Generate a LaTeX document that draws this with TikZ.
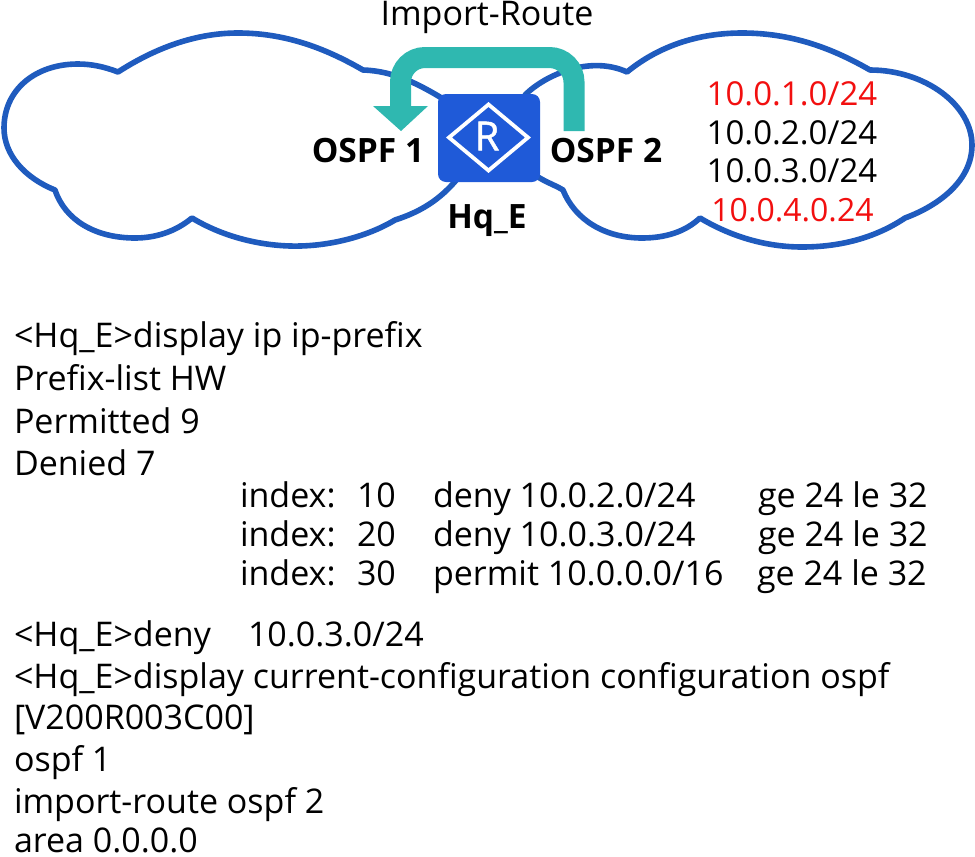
\documentclass[tikz,border=0pt]{standalone}
\usepackage{fontspec}
\setmainfont{Open Sans}
\newfontfamily\rfont[FakeBold=1.2]{Open Sans}
\definecolor{cloudblue}{HTML}{1F5BBE}
\definecolor{routerblue}{HTML}{1F5AD8}
\definecolor{teal2}{HTML}{2FB8B0}
\definecolor{netred}{HTML}{F20F0F}
\tikzset{
  x=1pt,y=-1pt,
  cloud line/.style={draw=cloudblue,line width=5.6pt,fill=white,line join=round},
  txt/.style={anchor=base west,inner sep=0pt,outer sep=0pt,font=\fontsize{34}{36}\selectfont,text=black},
  lbl/.style={anchor=base,inner sep=0pt,outer sep=0pt,font=\fontsize{33.5}{36}\selectfont\bfseries,text=black},
  net/.style={anchor=base,inner sep=0pt,outer sep=0pt,font=\fontsize{33}{36}\selectfont},
  flow/.style={draw=teal2,line width=21pt},
}
\begin{document}
\begin{tikzpicture}
\useasboundingbox (0,0) rectangle (975,857);
% left cloud
\draw[cloud line] (118,72)
  .. controls (160,45) and (200,33) .. (238,33)
  .. controls (285,33) and (325,48) .. (363,70)
  .. controls (395,71) and (420,85) .. (445,100)
  -- (458,178)
  .. controls (440,200) and (420,212) .. (395,220)
  .. controls (365,238) and (325,247) .. (290,246)
  .. controls (255,245) and (220,235) .. (192,218)
  .. controls (175,232) and (155,238) .. (135,238)
  .. controls (95,238) and (65,220) .. (55,190)
  .. controls (25,178) and (4,155) .. (4,128)
  .. controls (4,90) and (35,64) .. (78,64)
  .. controls (92,64) and (105,67) .. (118,72) -- cycle;
% right cloud
\draw[cloud line] (627,72)
  .. controls (660,45) and (700,33) .. (742,33)
  .. controls (790,33) and (830,47) .. (870,70)
  .. controls (925,70) and (972,105) .. (972,145)
  .. controls (972,180) and (940,205) .. (905,218)
  .. controls (875,238) and (840,247) .. (802,247)
  .. controls (765,247) and (730,236) .. (700,218)
  .. controls (685,232) and (665,238) .. (642,238)
  .. controls (605,238) and (575,220) .. (563,190)
  .. controls (555,185) and (545,182) .. (535,175)
  -- (525,95)
  .. controls (545,75) and (590,55) .. (627,72) -- cycle;
% router
\node[draw=none,fill=routerblue,rounded corners=8pt,minimum width=102pt,minimum height=88pt,inner sep=0pt] (router) at (489,138) {};
\draw[white,line width=3.8pt,line join=miter] (449,137.5) -- (488.5,104.5) -- (528,137.5) -- (488.5,170.5) -- cycle;
\node[inner sep=0pt,text=white,font=\rfont\fontsize{40}{40}\selectfont] (routerR) at (487,136) {R};
% import arrow
\coordinate (fromPt) at (574,131);
\coordinate (toPt) at (400.5,107);
\draw[flow] (fromPt) -- (574,82) arc[start angle=0,end angle=-90,radius=24.5] -- (425,57.5) arc[start angle=-90,end angle=-180,radius=24.5] -- (toPt);
\fill[teal2] (373,106) -- (428,106) -- (401,131) -- cycle;
% labels
\node[anchor=base,inner sep=0pt,font=\fontsize{34}{36}\selectfont] (importLbl) at (487,25) {Import-Route};
\node[lbl] (ospf1) at (368,162) {OSPF 1};
\node[lbl] (ospf2) at (606,162) {OSPF 2};
\node[lbl] (hq) at (487,228) {Hq\_E};
\node[net,text=netred] (n1) at (792,105) {10.0.1.0/24};
\node[net,text=black] (n2) at (792,144) {10.0.2.0/24};
\node[net,text=black] (n3) at (792,182) {10.0.3.0/24};
\node[net,text=netred,font=\fontsize{32}{36}\selectfont] (n4) at (792.5,221.5) {10.0.4.0.24};
% console text
\node[txt] (t1) at (14,347) {<Hq\_E>display ip ip-prefix};
\node[txt] (t2) at (14,390) {Prefix-list HW};
\node[txt] (t3) at (14,433) {Permitted 9};
\node[txt] (t4) at (14,475) {Denied 7};
\node[txt] (i1) at (240,507) {index:};
\node[txt] (i1a) at (357,507) {10};
\node[txt] (i1b) at (433,507) {deny 10.0.2.0/24};
\node[txt] (i1c) at (758,507) {ge 24 le 32};
\node[txt] (i2) at (240,546) {index:};
\node[txt] (i2a) at (357,546) {20};
\node[txt] (i2b) at (433,546) {deny 10.0.3.0/24};
\node[txt] (i2c) at (758,546) {ge 24 le 32};
\node[txt] (i3) at (240,585) {index:};
\node[txt] (i3a) at (357,585) {30};
\node[txt] (i3b) at (433,585) {permit 10.0.0.0/16};
\node[txt] (i3c) at (757,585) {ge 24 le 32};
\node[txt] (t5) at (14,646) {<Hq\_E>deny};
\node[txt] (t5b) at (248,646) {10.0.3.0/24};
\node[txt] (t6) at (14,688) {<Hq\_E>display current-configuration configuration ospf};
\node[txt] (t7) at (14,729) {[V200R003C00]};
\node[txt] (t8) at (14,771) {ospf 1};
\node[txt] (t9) at (14,813) {import-route ospf 2};
\node[txt] (t10) at (14,852) {area 0.0.0.0};
\end{tikzpicture}
\end{document}
